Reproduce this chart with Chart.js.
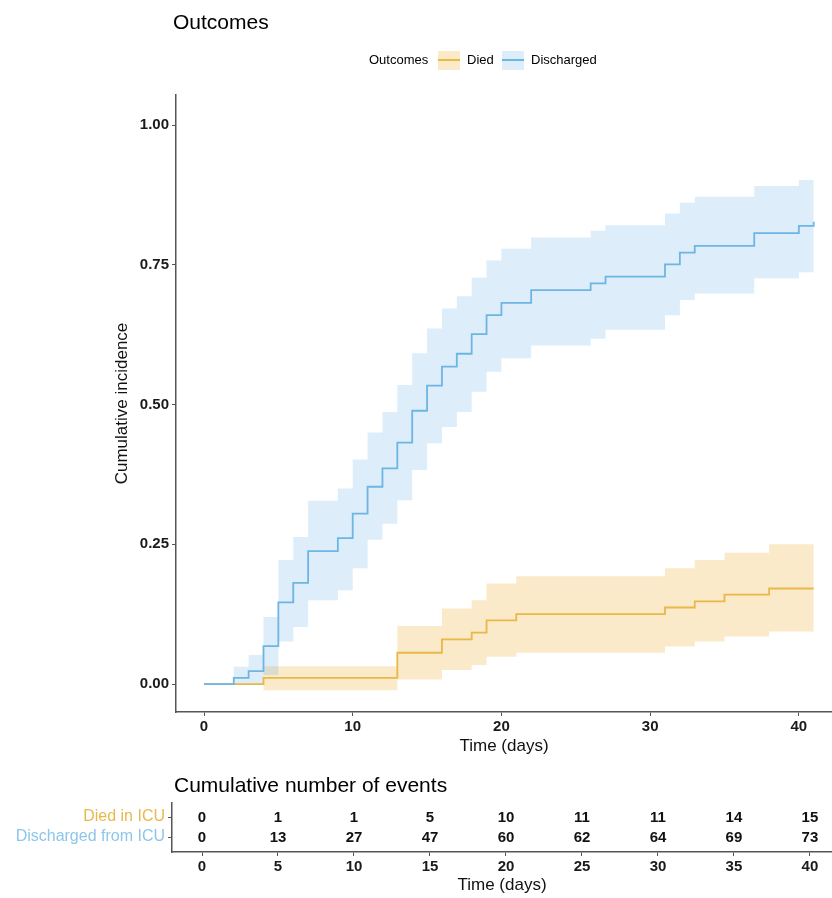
<!DOCTYPE html>
<html><head><meta charset="utf-8">
<script src="https://cdn.jsdelivr.net/npm/chart.js@4.4.1/dist/chart.umd.min.js"></script>
<style>
body{margin:0;background:#fff;width:832px;height:898px;overflow:hidden;position:relative;font-family:"Liberation Sans",Arial,Helvetica,sans-serif;}
.t{position:absolute;white-space:nowrap;line-height:1;color:#000;}
canvas{position:absolute;left:0;}
#c1{top:0;}
#c2{top:760px;}
.key{position:absolute;width:22px;height:19px;}
.key i{position:absolute;left:0;right:0;top:8px;height:2px;}
</style></head><body>
<canvas id="c1" width="832" height="760"></canvas>
<canvas id="c2" width="832" height="138"></canvas>
<div class="t" style="left:173px;top:11px;font-size:21px;">Outcomes</div>
<div class="t" style="left:369px;top:53px;font-size:13px;">Outcomes</div>
<div class="key" style="left:438px;top:51px;background:#FAEAC8"><i style="background:#E9B846"></i></div>
<div class="t" style="left:467px;top:53px;font-size:13px;">Died</div>
<div class="key" style="left:502px;top:51px;background:#DDEDFA"><i style="background:#6DB6E3"></i></div>
<div class="t" style="left:531px;top:53px;font-size:13px;">Discharged</div>
<div class="t" style="left:174px;top:774px;font-size:21px;">Cumulative number of events</div>
<script>
// ---- data ----
const outcomeNames = ['Died', 'Discharged'];
const diedTimes  = [0, 4, 13, 16, 18, 19, 21, 31, 33, 35, 38, 41];
const diedEst    = [0, 0.011, 0.056, 0.080, 0.092, 0.114, 0.125, 0.137, 0.148, 0.160, 0.171, 0.171];
const diedUpper  = [0, 0.032, 0.104, 0.135, 0.150, 0.180, 0.193, 0.207, 0.222, 0.235, 0.250, 0.250];
const diedLower  = [0, -0.011, 0.008, 0.025, 0.034, 0.049, 0.056, 0.067, 0.076, 0.085, 0.094, 0.094];
const dischTimes = [0, 2, 3, 4, 5, 6, 7, 9, 10, 11, 12, 13, 14, 15, 16, 17, 18, 19, 20, 22, 26, 27, 31, 32, 33, 37, 40, 41];
const dischEst   = [0, 0.011, 0.023, 0.068, 0.146, 0.181, 0.238, 0.261, 0.305, 0.353, 0.386, 0.432, 0.489, 0.534, 0.568, 0.591, 0.626, 0.660, 0.682, 0.705, 0.717, 0.729, 0.751, 0.772, 0.784, 0.807, 0.820, 0.827];
const dischUpper = [0, 0.031, 0.052, 0.120, 0.222, 0.263, 0.328, 0.350, 0.402, 0.450, 0.487, 0.535, 0.592, 0.636, 0.672, 0.694, 0.727, 0.758, 0.779, 0.799, 0.811, 0.821, 0.842, 0.861, 0.872, 0.891, 0.902, 0.902];
const dischLower = [0, 0, 0, 0.016, 0.076, 0.102, 0.150, 0.168, 0.207, 0.258, 0.287, 0.329, 0.383, 0.431, 0.460, 0.487, 0.523, 0.559, 0.583, 0.606, 0.618, 0.634, 0.660, 0.687, 0.699, 0.726, 0.737, 0.737];
const xTicks = [0, 10, 20, 30, 40];
const yTicks = [0, 0.25, 0.5, 0.75, 1.0];
const tableRows = ['Died in ICU', 'Discharged from ICU'];
const tableTimes = [0, 5, 10, 15, 20, 25, 30, 35, 40];
const diedCounts = [0, 1, 1, 5, 10, 11, 11, 14, 15];
const dischCounts = [0, 13, 27, 47, 60, 62, 64, 69, 73];

// ---- styles ----
const ORANGE = '#E9B846', BLUE = '#6DB6E3';
const ORANGE_BAND = 'rgba(238,180,60,0.28)', BLUE_BAND = 'rgba(100,175,230,0.22)';
const ROW_COLORS = ['#E8B84E', '#8CC6EA'];
const AX = '#555';
Chart.defaults.font.family = '"Liberation Sans", Arial, Helvetica, sans-serif';

const pts = (t, v) => t.map((x, i) => ({x: x, y: v[i]}));
const band = (t, v, fill, bg) => ({data: pts(t, v), borderColor: 'rgba(0,0,0,0)', borderWidth: 0,
  stepped: 'before', pointRadius: 0, pointHoverRadius: 0, fill: fill, backgroundColor: bg});

new Chart(document.getElementById('c1'), {
  type: 'line',
  data: {datasets: [
    {label: outcomeNames[1], data: pts(dischTimes, dischEst), borderColor: BLUE, borderWidth: 1.8, stepped: 'before', pointRadius: 0, fill: false},
    {label: outcomeNames[0], data: pts(diedTimes, diedEst), borderColor: ORANGE, borderWidth: 1.8, stepped: 'before', pointRadius: 0, fill: false},
    band(dischTimes, dischUpper, 3, BLUE_BAND),
    band(dischTimes, dischLower, false, 'rgba(0,0,0,0)'),
    band(diedTimes, diedUpper, 5, ORANGE_BAND),
    band(diedTimes, diedLower, false, 'rgba(0,0,0,0)')
  ]},
  options: {
    responsive: false, animation: false, devicePixelRatio: 1, events: [],
    layout: {padding: {top: 95, left: 0, right: 0, bottom: 0}},
    plugins: {legend: {display: false}, tooltip: {enabled: false}},
    scales: {
      x: {type: 'linear', min: -1.883, max: 42.23,
        afterBuildTicks: s => { s.ticks = xTicks.map(v => ({value: v})); },
        afterFit: s => { s.height = 48; },
        ticks: {font: {size: 15, weight: 'bold'}, color: '#1a1a1a', padding: 2, maxRotation: 0, autoSkip: false},
        grid: {drawOnChartArea: false, tickLength: 4, color: AX},
        border: {color: AX, width: 1.5},
        title: {display: true, text: 'Time (days)', font: {size: 17}, color: '#111', padding: {top: 0, bottom: 3}}
      },
      y: {type: 'linear', min: -0.05, max: 1.054,
        afterBuildTicks: s => { s.ticks = yTicks.map(v => ({value: v})); },
        afterFit: s => { s.width = 176; },
        ticks: {font: {size: 15, weight: 'bold'}, color: '#1a1a1a', padding: 3, callback: v => Number(v).toFixed(2)},
        grid: {drawOnChartArea: false, tickLength: 4, color: AX},
        border: {color: AX, width: 1.5},
        title: {display: true, text: 'Cumulative incidence', font: {size: 17}, color: '#111', padding: {top: 112, bottom: 0}}
      }
    }
  }
});

const cellText = {
  id: 'cellText',
  afterDatasetsDraw(chart) {
    const ctx = chart.ctx;
    ctx.save();
    ctx.font = 'bold 15px "Liberation Sans", Arial, sans-serif';
    ctx.fillStyle = '#111';
    ctx.textAlign = 'center';
    ctx.textBaseline = 'middle';
    chart.data.datasets.forEach((ds, di) => {
      chart.getDatasetMeta(di).data.forEach((el, i) => {
        ctx.fillText(String(ds.counts[i]), el.x, el.y + 1);
      });
    });
    ctx.restore();
  }
};

new Chart(document.getElementById('c2'), {
  type: 'scatter',
  data: {datasets: [
    {data: tableTimes.map(t => ({x: t, y: 1})), counts: diedCounts, pointRadius: 0},
    {data: tableTimes.map(t => ({x: t, y: 2})), counts: dischCounts, pointRadius: 0}
  ]},
  options: {
    responsive: false, animation: false, devicePixelRatio: 1, events: [],
    layout: {padding: {top: 43, left: 0, right: 0, bottom: 0}},
    plugins: {legend: {display: false}, tooltip: {enabled: false}},
    scales: {
      x: {type: 'linear', min: -1.974, max: 41.45,
        afterBuildTicks: s => { s.ticks = tableTimes.map(v => ({value: v})); },
        afterFit: s => { s.height = 46; },
        ticks: {font: {size: 15, weight: 'bold'}, color: '#1a1a1a', padding: 2, maxRotation: 0, autoSkip: false},
        grid: {drawOnChartArea: false, tickLength: 4, color: AX},
        border: {color: AX, width: 1.5},
        title: {display: true, text: 'Time (days)', font: {size: 17}, color: '#111', padding: {top: 0, bottom: 2}}
      },
      y: {type: 'linear', min: 0.3, max: 2.75, reverse: true,
        afterBuildTicks: s => { s.ticks = tableRows.map((r, i) => ({value: i + 1})); },
        afterFit: s => { s.width = 172; },
        ticks: {font: {size: 16}, color: c => ROW_COLORS[c.index], padding: 3, callback: v => tableRows[v - 1]},
        grid: {drawOnChartArea: false, tickLength: 4, color: AX},
        border: {color: AX, width: 1.5}
      }
    }
  },
  plugins: [cellText]
});
</script>
</body></html>
